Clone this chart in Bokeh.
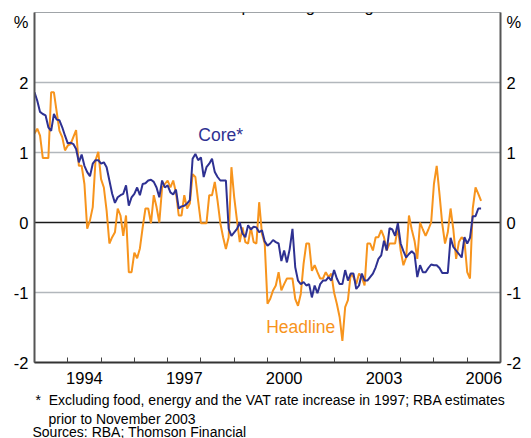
from bokeh.plotting import figure
from bokeh.models import FixedTicker, LinearAxis, Span, Label, Range1d, Title
from bokeh.embed import file_html
from bokeh.resources import INLINE

# Monthly data, January 1993 onwards (year-ended % change)
start_year = 1993
core = [1.86, 1.74, 1.58, 1.55, 1.53, 1.36, 1.31, 1.55, 1.47, 1.46, 1.36, 1.24,
        1.13, 1.14, 1.12, 1.05, 0.86, 0.97, 0.81, 0.72, 0.66, 0.84, 0.89, 0.89,
        0.84, 0.86, 0.79, 0.60, 0.41, 0.28, 0.36, 0.39, 0.41, 0.53, 0.24, 0.36,
        0.41, 0.50, 0.39, 0.55, 0.56, 0.60, 0.61, 0.58, 0.50, 0.36, 0.60, 0.50,
        0.53, 0.43, 0.40, 0.47, 0.20, 0.23, 0.24, 0.27, 0.32, 0.91, 0.98, 0.89,
        0.93, 0.65, 0.79, 0.84, 0.91, 0.72, 0.65, 0.60, 0.60, 0.60, -0.09, -0.19,
        -0.14, -0.09, 0.00, -0.16, -0.21, -0.04, -0.10, -0.06, -0.07, -0.14, -0.11, -0.27,
        -0.33, -0.30, -0.25, -0.28, -0.30, -0.55, -0.40, -0.57, -0.38, -0.09, -0.64, -0.83,
        -0.88, -0.85, -0.90, -0.88, -1.07, -0.90, -1.01, -0.88, -0.83, -0.83, -0.78, -0.83,
        -0.68, -0.80, -0.88, -0.88, -0.68, -0.83, -0.73, -0.73, -0.95, -0.90, -0.73, -0.83,
        -0.83, -0.78, -0.73, -0.64, -0.52, -0.47, -0.26, -0.40, -0.08, -0.10, -0.19, -0.01,
        -0.30, -0.41, -0.50, -0.45, -0.41, -0.45, -0.78, -0.61, -0.71, -0.71, -0.65, -0.60,
        -0.61, -0.61, -0.65, -0.72, -0.72, -0.72, -0.22, -0.35, -0.40, -0.45, -0.50, -0.21,
        -0.30, -0.22, 0.09, 0.09, 0.20, 0.20]
headline = [1.27, 1.34, 1.24, 0.92, 0.92, 0.92, 1.86, 1.86, 1.58, 1.31, 1.22, 1.03,
            1.10, 1.12, 1.22, 1.32, 0.81, 0.81, 0.55, -0.09, 0.03, 0.22, 0.89, 1.01,
            0.62, 0.50, 0.17, -0.30, -0.21, -0.14, 0.20, 0.10, -0.19, 0.10, -0.71, -0.71,
            -0.43, -0.51, -0.37, -0.07, 0.20, 0.20, -0.01, 0.39, 0.22, 0.00, 0.50, 0.55,
            0.60, 0.50, 0.60, 0.43, 0.10, 0.10, 0.39, 0.20, 0.27, 0.69, 0.65, 0.31,
            -0.01, -0.01, -0.01, 0.39, 0.39, 0.58, 0.31, -0.01, -0.21, -0.38, -0.21, 0.79,
            0.36, 0.03, -0.28, -0.07, -0.28, -0.30, -0.07, -0.28, -0.30, 0.29, -0.16, -0.30,
            -1.16, -1.09, -0.97, -0.90, -0.71, -0.97, -0.88, -0.80, -0.80, -0.80, -1.09, -1.19,
            -1.02, -0.59, -0.30, -0.30, -0.69, -0.61, -0.71, -0.80, -0.80, -0.71, -0.78, -0.73,
            -1.00, -1.16, -1.35, -1.69, -1.21, -1.11, -0.73, -0.78, -0.88, -0.73, -0.78, -0.90,
            -0.30, -0.30, -0.40, -0.21, -0.21, -0.11, -0.21, -0.40, -0.30, -0.30, -0.30, -0.07,
            -0.40, -0.61, -0.50, 0.10, -0.10, -0.26, -0.52, 0.00, -0.10, -0.19, -0.10, 0.00,
            0.55, 0.81, 0.41, -0.02, -0.30, -0.14, 0.20, -0.10, -0.52, -0.28, -0.21, -0.26,
            -0.71, -0.80, 0.20, 0.50, 0.41, 0.31]

year_labels = ["1994", "1997", "2000", "2003", "2006"]
y_ticks = [-2.0, -1.0, 0.0, 1.0, 2.0]
y_tick_labels = ["-2", "-1", "0", "1", "2"]
y_unit_label = "%"

dates = [start_year + i / 12 for i in range(len(core))]

ORANGE = "#f7941d"
NAVY = "#2e3192"
FONT = "Liberation Sans"

p = figure(output_backend="svg", toolbar_location=None,
           frame_width=466, frame_height=350,
           min_border_left=34, min_border_right=31, min_border_top=12, min_border_bottom=76,
           x_range=Range1d(1993, 2007), y_range=Range1d(-2, 3),
           x_axis_location=None, y_axis_location=None)
p.outline_line_color = "#a0a4a8"
p.outline_line_width = 1
p.background_fill_color = "white"
p.border_fill_color = "white"

# grid
p.xgrid.visible = False
p.ygrid.ticker = FixedTicker(ticks=[-1, 1, 2])
p.ygrid.grid_line_color = "#b2b7bc"
p.ygrid.grid_line_width = 1.5
p.add_layout(Span(location=0, dimension="width", line_color="#1a1a1a", line_width=1.5, level="underlay"))

# bottom axis
xax = LinearAxis()
major = [int(y) + 0.5 for y in year_labels]
xax.ticker = FixedTicker(ticks=major, minor_ticks=list(range(1993, 2008)))
xax.major_label_overrides = {m: lab for m, lab in zip(major, year_labels)}
xax.major_tick_in = 0
xax.major_tick_out = 0
xax.minor_tick_in = 5
xax.minor_tick_out = 0
xax.minor_tick_line_color = "#444444"
xax.minor_tick_line_width = 1
xax.axis_line_color = "#333333"
xax.axis_line_width = 2
xax.major_label_text_font = FONT
xax.major_label_text_font_size = "16.5px"
xax.major_label_text_color = "black"
xax.major_label_standoff = 9
p.add_layout(xax, "below")

unit_pos = 2.871
for side in ("left", "right"):
    ax = LinearAxis()
    ax.ticker = FixedTicker(ticks=y_ticks + [unit_pos], minor_ticks=[])
    overrides = {t: s for t, s in zip(y_ticks, y_tick_labels)}
    overrides[unit_pos] = y_unit_label
    ax.major_label_overrides = overrides
    ax.major_tick_in = 0
    ax.major_tick_out = 0
    ax.minor_tick_in = 0
    ax.minor_tick_out = 0
    ax.axis_line_color = "#555555"
    ax.axis_line_width = 2
    ax.major_label_text_font = FONT
    ax.major_label_text_font_size = "16.5px"
    ax.major_label_text_color = "black"
    ax.major_label_standoff = 6
    p.add_layout(ax, side)

# lines
p.line(dates, headline, line_color=ORANGE, line_width=2)
p.line(dates, core, line_color=NAVY, line_width=2)

def lab(x, y, text, size, color="black", align="left", baseline="alphabetic"):
    p.add_layout(Label(x=x, y=y, text=text, text_font=FONT, text_font_size=size,
                       text_color=color, text_align=align, text_baseline=baseline))

lab(1997.92, 1.243, "Core*", "17.5px", NAVY, baseline="middle")
lab(1999.96, -1.486, "Headline", "17.5px", ORANGE, baseline="middle")
lab(2000.0, 3.1, "Year-ended percentage change", "16.5px", align="center")

def note(text, offset, standoff):
    p.add_layout(Title(text=text, align="left", offset=offset, standoff=standoff,
                       text_font=FONT, text_font_size="14px", text_font_style="normal",
                       text_color="black"), "below")

note("*\u00a0\u00a0Excluding food, energy and the VAT rate increase in 1997; RBA estimates", 1, 6)
note("prior to November 2003", 14, -4)
note("Sources: RBA; Thomson Financial", -2, -6)

open("out.html", "w").write(file_html(p, INLINE))
